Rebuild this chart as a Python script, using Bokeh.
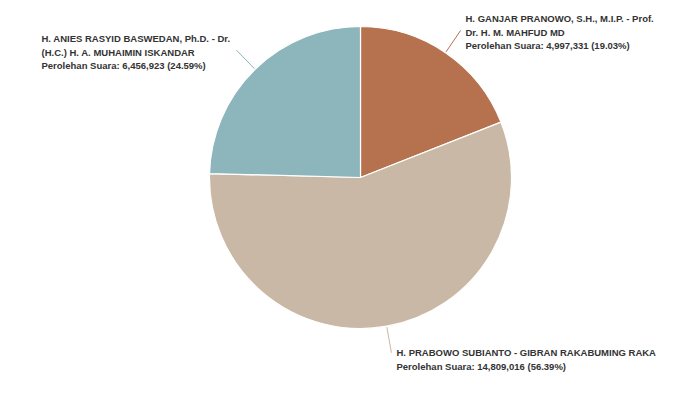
import math
from bokeh.plotting import figure
from bokeh.models import ColumnDataSource, Range1d
from bokeh.core.properties import value
from bokeh.embed import file_html
from bokeh.resources import INLINE

# ---- data (clockwise from 12 o'clock) ----
name_line1 = ["H. GANJAR PRANOWO, S.H., M.I.P. - Prof.",
              "H. PRABOWO SUBIANTO - GIBRAN RAKABUMING RAKA",
              "H. ANIES RASYID BASWEDAN, Ph.D. - Dr."]
name_line2 = ["Dr. H. M. MAHFUD MD",
              "",
              "(H.C.) H. A. MUHAIMIN ISKANDAR"]
votes = [4997331, 14809016, 6456923]
percents = ["19.03%", "56.39%", "24.59%"]
colors = ["#b6714f", "#c9b8a5", "#8db6bc"]

# ---- layout ----
W, H = 700, 393
CX, CY, R = 360, H - 177, 151
R_LINE_END = 178
label_left = [465, 396, 41]
label_top = [18, 352, 38]
LINE_H = 13.5
FONT = value("Liberation Sans")
FSIZE = "9.5px"
TXT = "#333333"

total = sum(votes)
starts, ends, mids = [], [], []
cum = 0
for v in votes:
    a0 = math.pi / 2 - 2 * math.pi * cum / total
    cum += v
    a1 = math.pi / 2 - 2 * math.pi * cum / total
    starts.append(a0)
    ends.append(a1)
    mids.append((a0 + a1) / 2)

p = figure(width=W, height=H, output_backend="svg", toolbar_location=None,
           x_range=Range1d(0, W), y_range=Range1d(0, H), min_border=0)
p.axis.visible = False
p.grid.visible = False
p.outline_line_color = None
p.background_fill_color = "white"
p.border_fill_color = "white"

src = ColumnDataSource(dict(x=[CX] * 3, y=[CY] * 3, s=starts, e=ends, c=colors))
p.wedge(x="x", y="y", radius=R, start_angle="s", end_angle="e", direction="clock",
        fill_color="c", line_color="white", line_width=1.2, source=src)

# leader lines
xs = [[CX + (R + 1) * math.cos(m), CX + R_LINE_END * math.cos(m)] for m in mids]
ys = [[CY + (R + 1) * math.sin(m), CY + R_LINE_END * math.sin(m)] for m in mids]
p.multi_line(xs=xs, ys=ys, line_color=colors, line_width=1)

# labels
tx, ty, tt = [], [], []
for i in range(3):
    lines = [name_line1[i]]
    if name_line2[i]:
        lines.append(name_line2[i])
    lines.append("Perolehan Suara: {:,} ({})".format(votes[i], percents[i]))
    for j, t in enumerate(lines):
        tx.append(label_left[i])
        ty.append(H - (label_top[i] + j * LINE_H))
        tt.append(t)
p.text(x=tx, y=ty, text=tt, text_font=FONT, text_font_size=FSIZE,
       text_font_style="bold", text_color=TXT, text_baseline="middle", text_align="left")

open("out.html", "w").write(file_html(p, INLINE))
